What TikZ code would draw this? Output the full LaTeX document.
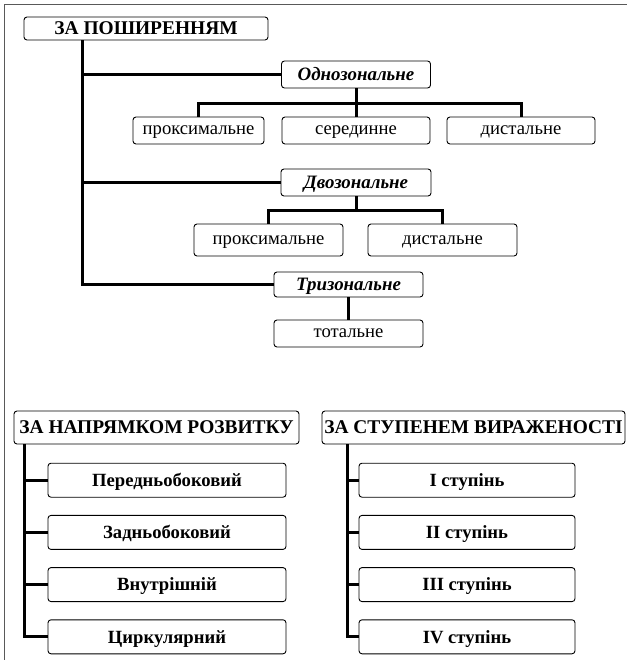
\documentclass[tikz,border=0pt]{standalone}
\usepackage{fontspec}
\setmainfont{Liberation Serif}
\usetikzlibrary{positioning,calc}

\tikzset{
  box/.style={draw, rounded corners=3bp, line width=0.9bp, inner sep=0pt,
              align=center, text height=8.6bp, text depth=0pt,
              font=\fontsize{18.7}{21}\selectfont},
  headbox/.style={box, text height=12.4bp, font=\fontsize{18.7}{21}\selectfont\bfseries},
  bighead/.style={headbox, text height=12.8bp, font=\fontsize{19.5}{22}\selectfont\bfseries},
  zonebox/.style={headbox, font=\fontsize{19}{21}\selectfont\bfseries\itshape},
  conn/.style={line width=3bp},
}

\begin{document}
\begin{tikzpicture}[x=1bp, y=-1bp]
  \useasboundingbox (0,0) rectangle (627,660);
  % page frame
  \draw[gray!70!black, line width=1bp] (627,5) -- (4,5) -- (4,660);

  % ----- за поширенням
  \node[bighead, minimum width=244bp, minimum height=23bp] (spread) at (146,28.5) {ЗА ПОШИРЕННЯМ};
  \node[zonebox, minimum width=149bp, minimum height=27bp] (one) at (356,74.5) {Однозональне};
  \node[box, minimum width=131bp, minimum height=27bp] (oneprox) at (198.5,130.5) {проксимальне};
  \node[box, minimum width=148bp, minimum height=27bp] (onemid) at (356,130.5) {серединне};
  \node[box, minimum width=148bp, minimum height=27bp] (onedist) at (521,130.5) {дистальне};
  \node[zonebox, minimum width=150bp, minimum height=27bp] (two) at (356,182.5) {Двозональне};
  \node[box, minimum width=149bp, minimum height=32bp] (twoprox) at (268.5,240) {проксимальне};
  \node[box, minimum width=149bp, minimum height=32bp] (twodist) at (442.5,240) {дистальне};
  \node[zonebox, minimum width=149bp, minimum height=25bp] (three) at (348.5,284.5) {Тризональне};
  \node[box, minimum width=149bp, minimum height=27bp] (total) at (348.5,333.5) {тотальне};

  \coordinate (spreadroot) at ([xshift=59bp]spread.south west);
  \draw[conn] (spreadroot) |- (one.west);
  \draw[conn] (spreadroot) |- (two.west);
  \draw[conn] (spreadroot) |- (three.west);

  \draw[conn] (one.south) -- (onemid.north);
  \draw[conn] (one.south) -- ++(0,15) -| (oneprox.north);
  \draw[conn] (one.south) -- ++(0,15) -| (onedist.north);
  \draw[conn] (two.south) -- ++(0,14) -| (twoprox.north);
  \draw[conn] (two.south) -- ++(0,14) -| (twodist.north);
  \draw[conn] (three.south) -- (total.north);

  % ----- за напрямком розвитку
  \node[bighead, minimum width=285bp, minimum height=33bp] (dir) at (156.5,427.5) {ЗА НАПРЯМКОМ РОЗВИТКУ};
  \foreach \name/\txt [count=\i] in {ant/Передньобоковий, post/Задньобоковий, inner/Внутрішній, circ/Циркулярний}
    \node[headbox, minimum width=238bp, minimum height=34bp] (dir\name) at (167,428+52.2*\i) {\txt};
  \coordinate (dirroot) at ([xshift=11bp]dir.south west);
  \foreach \name in {ant, post, inner, circ}
    \draw[conn] (dirroot) |- (dir\name.west);

  % ----- за ступенем вираженості
  \node[bighead, minimum width=303bp, minimum height=33bp] (deg) at (473.5,427.5) {ЗА СТУПЕНЕМ ВИРАЖЕНОСТІ};
  \foreach \name/\txt [count=\i] in {a/I ступінь, b/II ступінь, c/III ступінь, d/IV ступінь}
    \node[headbox, minimum width=216bp, minimum height=34bp] (deg\name) at (467,428+52.2*\i) {\txt};
  \coordinate (degroot) at ([xshift=26bp]deg.south west);
  \foreach \name in {a, b, c, d}
    \draw[conn] (degroot) |- (deg\name.west);
\end{tikzpicture}
\end{document}
